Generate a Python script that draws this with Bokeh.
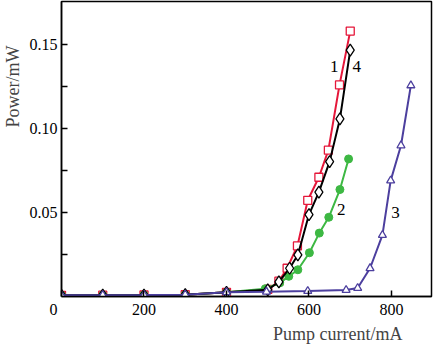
from bokeh.plotting import figure
from bokeh.models import FixedTicker, Label, Range1d, Title
from bokeh.embed import file_html
from bokeh.resources import INLINE

# ---- data ----
x1 = [0, 100, 200, 300, 400, 500, 527, 547, 572, 597, 624, 647, 674, 700]
y1 = [0.0007, 0.0008, 0.0009, 0.0011, 0.0025, 0.0042, 0.0091, 0.0168, 0.0301, 0.0572, 0.0709, 0.0870, 0.1258, 0.1578]

x4 = [0, 100, 200, 300, 400, 500, 527, 553, 573, 600, 624, 650, 675, 700]
y4 = [0.0007, 0.0008, 0.0009, 0.0011, 0.0025, 0.0040, 0.0087, 0.0168, 0.0247, 0.0487, 0.0621, 0.0802, 0.1056, 0.1465]

x2 = [0, 100, 200, 300, 400, 494, 529, 551, 573, 601, 625, 648, 675, 696]
y2 = [0.0007, 0.0008, 0.0009, 0.0011, 0.0025, 0.0046, 0.0081, 0.0120, 0.0159, 0.0260, 0.0377, 0.0471, 0.0636, 0.0818]

x3 = [0, 100, 200, 300, 400, 497, 597, 690, 718, 748, 778, 798, 823, 847]
y3 = [0.0007, 0.0008, 0.0009, 0.0011, 0.0025, 0.0028, 0.0032, 0.0038, 0.0050, 0.0168, 0.0365, 0.0689, 0.0898, 0.1255]

x_ticks = [0, 200, 400, 600, 800]
x_tick_labels = ["0\u2003", "200", "400", "600", "800"]
y_ticks = [0.05, 0.10, 0.15]
y_minor = [0.025, 0.075, 0.125]
y_tick_labels = ["0.05", "0.10", "0.15"]

curve_names = ["1", "2", "3", "4"]
curve_label_x = [661, 678, 810, 716]
curve_label_y = [0.1367, 0.0519, 0.0500, 0.1366]

x_title = "Pump current/mA"
y_title = "Power/mW"

RED = "#e5173a"
GREEN = "#3db843"
PURPLE = "#4c3f9e"
FONT = "Liberation Serif"

p = figure(width=433, height=344, output_backend="svg", toolbar_location=None,
           x_range=Range1d(0, 897), y_range=Range1d(0, 0.1754),
           min_border_left=59, min_border_right=2, min_border_top=1, min_border_bottom=43)
p.grid.visible = False
p.background_fill_color = "white"
p.border_fill_color = "white"
p.outline_line_color = "black"
p.outline_line_width = 1.5

# axes
p.xaxis.ticker = FixedTicker(ticks=x_ticks)
p.yaxis.ticker = FixedTicker(ticks=y_ticks, minor_ticks=y_minor)
p.xaxis.major_label_overrides = {t: s for t, s in zip(x_ticks, x_tick_labels)}
p.yaxis.major_label_overrides = {t: s for t, s in zip(y_ticks, y_tick_labels)}
for ax in (p.xaxis, p.yaxis):
    ax.axis_line_color = "black"
    ax.axis_line_width = 1.5
    ax.major_tick_in = 6
    ax.major_tick_out = 0
    ax.major_tick_line_width = 1.5
    ax.minor_tick_in = 6
    ax.minor_tick_out = 0
    ax.minor_tick_line_width = 1.5
    ax.major_label_text_font = FONT
    ax.major_label_text_font_size = "16px"
    ax.major_label_text_color = "black"
    ax.major_label_standoff = 4
p.xaxis.minor_tick_line_color = None

# axis titles as side titles
p.add_layout(Title(text=x_title, align="right", offset=29, text_font=FONT,
                   text_font_size="18px", text_font_style="normal", standoff=2), "below")
p.add_layout(Title(text=y_title, align="right", offset=44, vertical_align="top", text_font=FONT,
                   text_font_size="18px", text_font_style="normal", standoff=4), "left")

# series
p.line(x1, y1, line_color=RED, line_width=2)
p.scatter(x1, y1, marker="square", size=8, fill_color="white", line_color=RED, line_width=1.3)

p.line(x2, y2, line_color=GREEN, line_width=2)
p.scatter(x2, y2, marker="circle", size=8, fill_color=GREEN, line_color=GREEN)

p.line(x4, y4, line_color="black", line_width=2)
p.scatter(x4, y4, marker="diamond", size=12, fill_color="white", line_color="black", line_width=1.3)

p.line(x3, y3, line_color=PURPLE, line_width=2)
p.scatter(x3, y3, marker="triangle", size=8, fill_color="white", line_color=PURPLE, line_width=1.3)

# curve numbers
for n, lx, ly in zip(curve_names, curve_label_x, curve_label_y):
    p.add_layout(Label(x=lx, y=ly, text=n, text_font=FONT, text_font_size="17px",
                       text_align="center", text_baseline="middle", text_color="black"))

open("out.html", "w").write(file_html(p, INLINE))
